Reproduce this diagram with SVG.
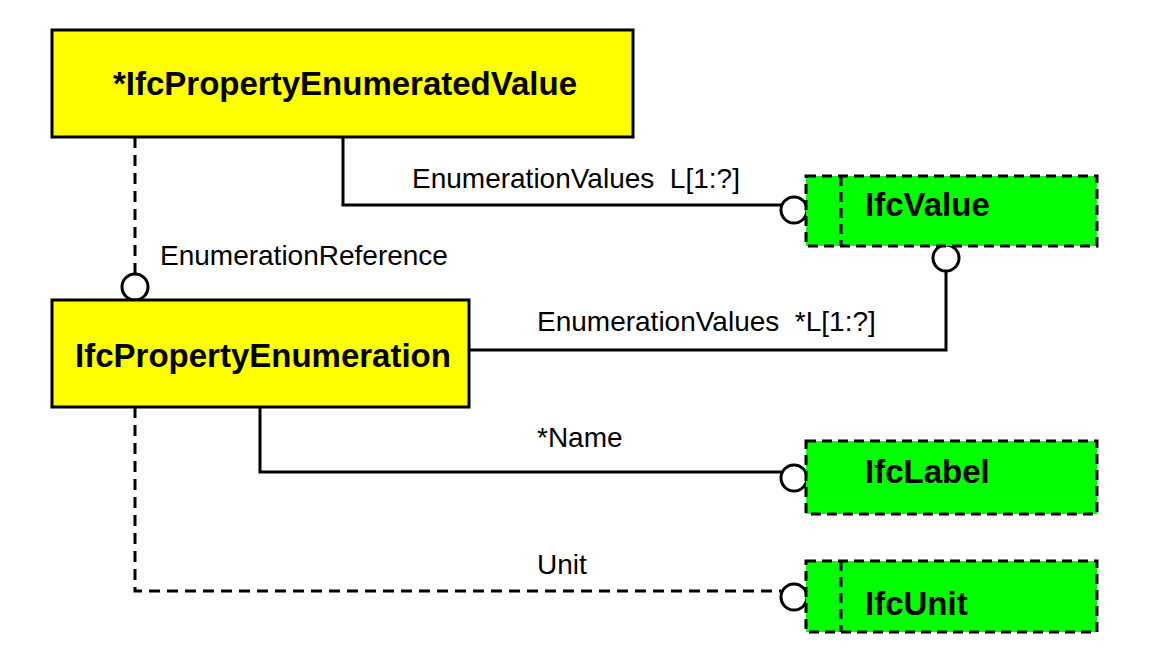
<svg xmlns="http://www.w3.org/2000/svg" width="1163" height="652" viewBox="0 0 1163 652">
<style>
.ent{fill:#ffff00;stroke:#000;stroke-width:3}
.typ{fill:#00ff00;stroke:#000;stroke-width:3;stroke-dasharray:10,6}
.sep{stroke:#000;stroke-width:3;stroke-dasharray:10,6;fill:none}
.t{font-family:"Liberation Sans",Arial,sans-serif;font-weight:bold;font-size:33px;fill:#000}
.lbl{font-family:"Liberation Sans",Arial,sans-serif;font-size:28px;fill:#000}
.ln{fill:none;stroke:#000;stroke-width:3}
.dl{fill:none;stroke:#000;stroke-width:3;stroke-dasharray:11,7}
.c{fill:#fff;stroke:#000;stroke-width:3}
</style>
<rect width="1163" height="652" fill="#fff"/>
<g id="connectors">
<path class="ln" d="M343,137 V205 H781"/>
<path class="ln" d="M470,350 H946 V271"/>
<path class="ln" d="M260,407 V472 H781"/>
<path class="dl" d="M135,137 V274"/>
<path class="dl" d="M135,407 V591 H781"/>
<circle class="c" cx="794" cy="210" r="13"/>
<circle class="c" cx="946" cy="258" r="13"/>
<circle class="c" cx="135" cy="287" r="13"/>
<circle class="c" cx="794" cy="478" r="13"/>
<circle class="c" cx="794" cy="597" r="13"/>
<text class="lbl" x="412" y="188" xml:space="preserve">EnumerationValues  L[1:?]</text>
<text class="lbl" x="160" y="265">EnumerationReference</text>
<text class="lbl" x="537" y="331" xml:space="preserve">EnumerationValues  *L[1:?]</text>
<text class="lbl" x="537" y="447">*Name</text>
<text class="lbl" x="537" y="574">Unit</text>
</g>
<g id="IfcPropertyEnumeratedValue">
<rect class="ent" x="52" y="30" width="581" height="107"/>
<text class="t" x="345" y="95" text-anchor="middle">*IfcPropertyEnumeratedValue</text>
</g>
<g id="IfcPropertyEnumeration">
<rect class="ent" x="52" y="300" width="417" height="107"/>
<text class="t" x="263" y="367" text-anchor="middle">IfcPropertyEnumeration</text>
</g>
<g id="IfcValue">
<rect class="typ" x="806" y="176" width="291" height="70"/>
<line class="sep" x1="841" y1="176" x2="841" y2="246"/>
<text class="t" x="865" y="216">IfcValue</text>
</g>
<g id="IfcLabel">
<rect class="typ" x="806" y="441" width="291" height="73"/>
<text class="t" x="865" y="483">IfcLabel</text>
</g>
<g id="IfcUnit">
<rect class="typ" x="806" y="561" width="291" height="71"/>
<line class="sep" x1="841" y1="561" x2="841" y2="632"/>
<text class="t" x="865" y="615">IfcUnit</text>
</g>
</svg>
